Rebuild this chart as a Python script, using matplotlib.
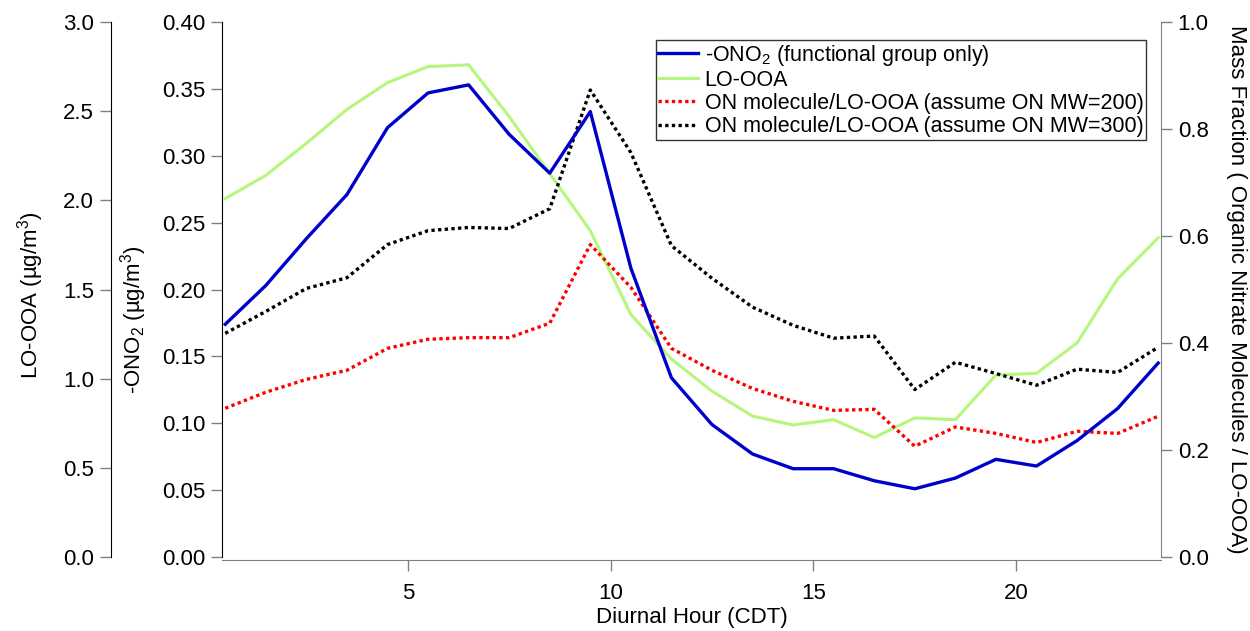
import numpy as np
import matplotlib
matplotlib.use('Agg')
import matplotlib.pyplot as plt

plt.rcParams['font.family'] = ['Liberation Sans', 'DejaVu Sans']
plt.rcParams['mathtext.fontset'] = 'custom'
plt.rcParams['mathtext.rm'] = 'Liberation Sans'
plt.rcParams['mathtext.it'] = 'Liberation Sans:italic'
plt.rcParams['font.size'] = 16

# diurnal hour bins (CDT)
hour = [0.5, 1.5, 2.5, 3.5, 4.5, 5.5, 6.5, 7.5, 8.5, 9.5, 10.5, 11.5,
        12.5, 13.5, 14.5, 15.5, 16.5, 17.5, 18.5, 19.5, 20.5, 21.5, 22.5, 23.5]

# -ONO2 functional group (ug/m3)
ono2 = [0.174, 0.203, 0.238, 0.271, 0.321, 0.347, 0.353, 0.316, 0.287, 0.333, 0.216, 0.134,
        0.099, 0.077, 0.066, 0.066, 0.057, 0.051, 0.059, 0.073, 0.068, 0.087, 0.111, 0.145]

# LO-OOA factor (ug/m3)
lo_ooa = [2.01, 2.14, 2.32, 2.51, 2.66, 2.75, 2.76, 2.47, 2.15, 1.83, 1.36, 1.11,
          0.93, 0.79, 0.74, 0.77, 0.67, 0.78, 0.77, 1.02, 1.03, 1.20, 1.56, 1.79]

# ON molecule mass fraction of LO-OOA
frac_mw200 = [0.278, 0.308, 0.332, 0.349, 0.390, 0.407, 0.410, 0.410, 0.437, 0.584, 0.504, 0.390,
              0.349, 0.315, 0.291, 0.274, 0.276, 0.207, 0.243, 0.231, 0.214, 0.235, 0.231, 0.263]
frac_mw300 = [0.418, 0.459, 0.502, 0.522, 0.584, 0.610, 0.616, 0.614, 0.651, 0.873, 0.756, 0.582,
              0.521, 0.467, 0.433, 0.409, 0.413, 0.313, 0.364, 0.343, 0.321, 0.351, 0.345, 0.392]

fig = plt.figure(figsize=(12.5, 6.31), dpi=100)
ax = fig.add_axes([0.1776, 0.1173, 0.7512, 0.8478])
ax_l = ax.twinx()
ax_r = ax.twinx()

tick_kw = dict(direction='out', length=8, width=1, color='#808080', labelsize=16, pad=4)

l2, = ax_l.plot(hour, lo_ooa, color='#b5f77c', lw=2.2, label='LO-OOA')
l1, = ax.plot(hour, ono2, color='#0000cc', lw=2.4, label='-ONO$_2$ (functional group only)')
l3, = ax_r.plot(hour, frac_mw200, color='#ff0000', lw=2.4, ls=(0, (1, 1)),
                label='ON molecule/LO-OOA (assume ON MW=200)')
l4, = ax_r.plot(hour, frac_mw300, color='#000000', lw=2.4, ls=(0, (1, 1)),
                label='ON molecule/LO-OOA (assume ON MW=300)')
ax.set_zorder(ax_l.get_zorder() + 1)
ax.patch.set_visible(False)

# inner left axis: -ONO2
ax.set_xlim(0.42, 23.57)
ax.set_ylim(0, 0.40)
ax.set_yticks(np.arange(0, 0.401, 0.05))
ax.set_yticklabels(['%.2f' % v for v in np.arange(0, 0.401, 0.05)])
ax.set_xticks([5, 10, 15, 20])
ax.tick_params(axis='both', **tick_kw)
ax.tick_params(axis='x', pad=9)
ax.spines['top'].set_visible(False)
ax.spines['right'].set_visible(False)
ax.spines['bottom'].set_color('#808080')
ax.spines['bottom'].set_position(('outward', 2))
ax.set_ylabel('-ONO$_2$ (µg/m$^3$)')
ax.yaxis.set_label_coords(-0.0775, 0.444)
ax.set_xlabel('Diurnal Hour (CDT)')
ax.xaxis.set_label_coords(0.5, -0.093)

# outer left axis: LO-OOA
ax_l.set_ylim(0, 3.0)
ax_l.set_yticks(np.arange(0, 3.01, 0.5))
ax_l.yaxis.set_ticks_position('left')
ax_l.yaxis.set_label_position('left')
ax_l.spines['left'].set_visible(True)
ax_l.spines['left'].set_position(('outward', 80))
for s in ['top', 'right', 'bottom']:
    ax_l.spines[s].set_visible(False)
ax_l.tick_params(axis='y', **tick_kw)
ax_l.set_ylabel('LO-OOA (µg/m$^3$)')
ax_l.yaxis.set_label_coords(-0.1873, 0.489)

# right axis: mass fraction
ax_r.set_ylim(0, 1.0)
ax_r.set_yticks(np.arange(0, 1.01, 0.2))
for s in ['top', 'left', 'bottom']:
    ax_r.spines[s].set_visible(False)
ax_r.spines['right'].set_color('#808080')
ax_r.tick_params(axis='y', **tick_kw)
ax_r.set_ylabel('Mass Fraction ( Organic Nitrate Molecules / LO-OOA)', rotation=-90)
ax_r.yaxis.set_label_coords(1.0916, 0.5)

leg = ax_r.legend(handles=[l1, l2, l3, l4], loc='upper right',
                  bbox_to_anchor=(1146 / 1250, 1 - 40 / 631), bbox_transform=fig.transFigure,
                  fontsize=15.5, frameon=True, fancybox=False, framealpha=1,
                  handlelength=1.85, handletextpad=0.3, labelspacing=0.1,
                  borderpad=0.12, borderaxespad=0)
leg.get_frame().set_edgecolor('#333333')
leg.get_frame().set_linewidth(1)

fig.savefig('out.png', dpi=100)
